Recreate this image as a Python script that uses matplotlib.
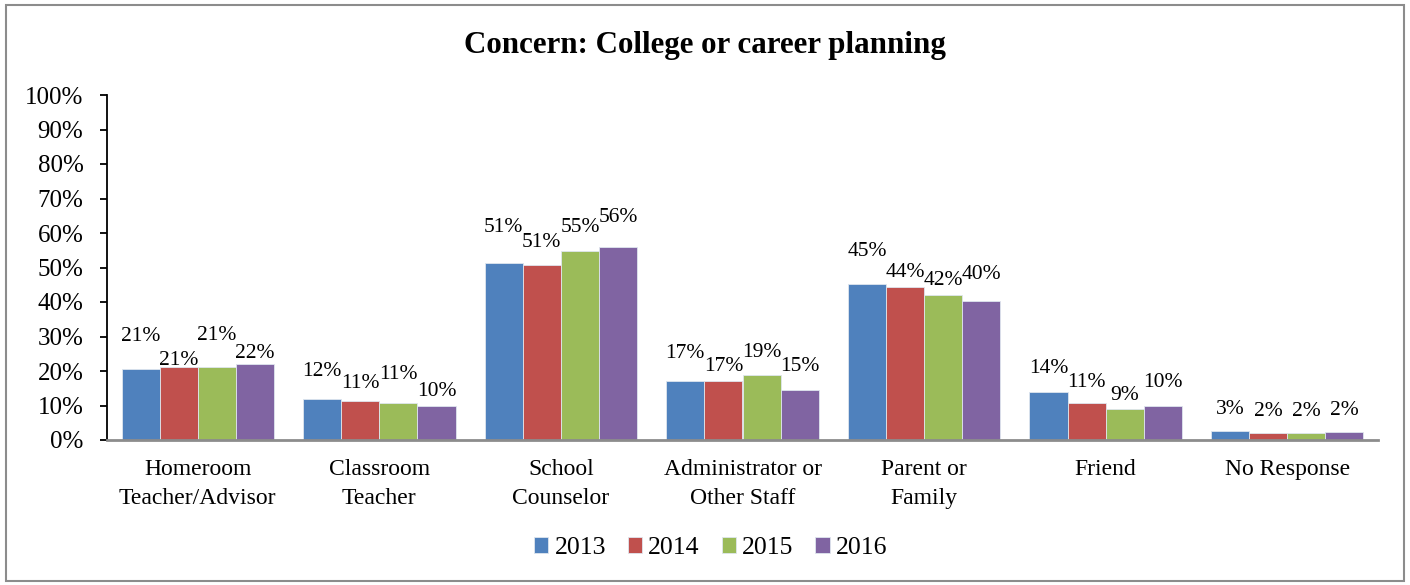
import matplotlib.pyplot as plt
import numpy as np
from matplotlib.patches import Rectangle

plt.rcParams['font.family'] = ['Liberation Serif', 'DejaVu Serif']

categories = ["Homeroom\nTeacher/Advisor", "Classroom\nTeacher", "School\nCounselor",
              "Administrator or\nOther Staff", "Parent or\nFamily", "Friend", "No Response"]
years = ["2013", "2014", "2015", "2016"]

pct_2013 = [20.6, 12.0, 51.4, 17.1, 45.2, 13.9, 2.6]
pct_2014 = [21.1, 11.2, 50.7, 17.1, 44.3, 10.6, 1.9]
pct_2015 = [21.2, 10.7, 54.8, 18.8, 42.0, 8.9, 1.9]
pct_2016 = [21.9, 10.0, 55.9, 14.6, 40.2, 9.9, 2.2]
series = [pct_2013, pct_2014, pct_2015, pct_2016]

# how far (px) each value label sits above its bar
lift_2013 = [32, 27, 35, 28, 33, 24, 22]
lift_2014 = [7, 18, 23, 15, 15, 21, 22]
lift_2015 = [31, 29, 23, 23, 15, 14, 22]
lift_2016 = [11, 14, 30, 23, 27, 23, 22]
lifts = [lift_2013, lift_2014, lift_2015, lift_2016]

colors = ["#4F81BD", "#C0504D", "#9BBB59", "#8064A2"]

fig = plt.figure(figsize=(14.1, 5.85), dpi=100)
ax = fig.add_axes([107 / 1410, 1 - 440 / 585, (1378 - 107) / 1410, (440 - 95) / 585])

x = np.arange(len(categories))
w = 0.21
for i in range(len(years)):
    xs = x + (i - 1.5) * w
    ax.bar(xs, series[i], width=w, color=colors[i], edgecolor="#dfe6ee",
           linewidth=0.6, label=years[i], zorder=2)
    for j in range(len(categories)):
        ax.annotate(f"{series[i][j]:.0f}%", (xs[j], series[i][j]),
                    xytext=(0, lifts[i][j]), textcoords="offset pixels",
                    ha="center", va="center", fontsize=15.5, zorder=3)

ax.set_xlim(-0.5, len(categories) - 0.5)
ax.set_ylim(0, 100)
ax.set_yticks(range(0, 101, 10))
ax.set_yticklabels([f"{v}%" for v in range(0, 101, 10)], fontsize=18)
ax.set_xticks(x)
ax.set_xticklabels(categories, fontsize=17, linespacing=1.45)
ax.tick_params(axis="x", length=0, pad=14)
ax.tick_params(axis="y", direction="out", length=5, width=1.3, pad=12)

for s in ["top", "right"]:
    ax.spines[s].set_visible(False)
ax.spines["left"].set_linewidth(1.3)
ax.spines["bottom"].set_color("#8c8c8c")
ax.spines["bottom"].set_linewidth(2)
ax.spines["bottom"].set_zorder(4)

fig.text(0.5, 1 - 45 / 585, "Concern: College or career planning", ha="center",
         va="center", fontsize=22.3, fontweight="bold")

fig.legend(loc="center", bbox_to_anchor=(0.504, 1 - 548 / 585), ncol=4, frameon=False,
           fontsize=18.5, handlelength=0.55, handleheight=0.55, handletextpad=0.25,
           columnspacing=0.85, borderaxespad=0)

# chart frame
fig.patches.append(Rectangle((6 / 1410, 4 / 585), 1398 / 1410, 576 / 585,
                             transform=fig.transFigure, fill=False,
                             edgecolor="#8c8c8c", linewidth=1.5))

fig.savefig("out.png", dpi=100)
